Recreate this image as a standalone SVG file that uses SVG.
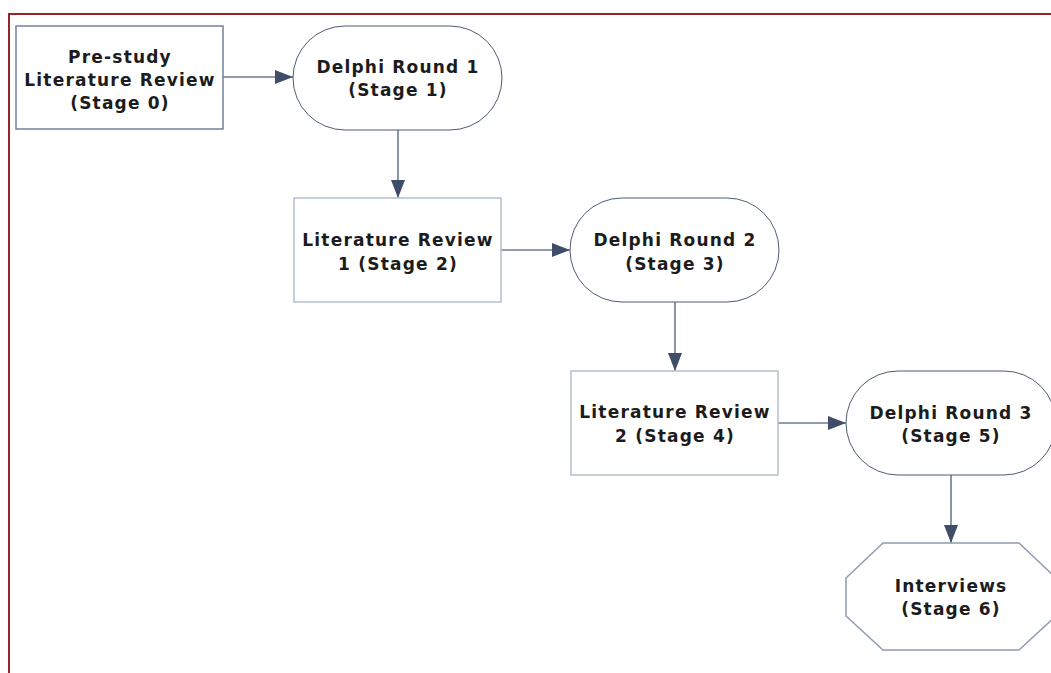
<svg xmlns="http://www.w3.org/2000/svg" width="1051" height="673" viewBox="0 0 1051 673">
<style>
.lbl{font-family:"DejaVu Sans","Verdana",sans-serif;font-weight:bold;font-size:17px;letter-spacing:1.2px;fill:#1c1c1c;text-anchor:middle}
.box{fill:#fff;stroke:#b3bfcd;stroke-width:1.5}
.box0{fill:#fff;stroke:#72819a;stroke-width:1.5}
.term{fill:#fff;stroke:#4f5d74;stroke-width:1}
.oct{fill:#fff;stroke:#8d9bb0;stroke-width:1.5}
.conn{stroke:#6c7a92;stroke-width:1.6;fill:none}
</style>
<defs>
<marker id="ah" viewBox="0 0 18 14" refX="18" refY="7" markerWidth="18" markerHeight="14" markerUnits="userSpaceOnUse" orient="auto">
<path d="M0,0 L18,7 L0,14 Z" fill="#3f4d68"/>
</marker>
</defs>
<rect width="1051" height="673" fill="#fff"/>
<path d="M9,673 L9,14 L1051,14" fill="none" stroke="#98242a" stroke-width="2"/>
<g id="connectors">
<line class="conn" x1="223" y1="77" x2="293" y2="77" marker-end="url(#ah)"/>
<line class="conn" x1="398" y1="130" x2="398" y2="198" marker-end="url(#ah)"/>
<line class="conn" x1="501" y1="250" x2="570" y2="250" marker-end="url(#ah)"/>
<line class="conn" x1="675" y1="302" x2="675" y2="371" marker-end="url(#ah)"/>
<line class="conn" x1="778" y1="423" x2="846" y2="423" marker-end="url(#ah)"/>
<line class="conn" x1="951" y1="475" x2="951" y2="543" marker-end="url(#ah)"/>
</g>
<g id="stage0">
<rect class="box0" x="16" y="26" width="207" height="103"/>
<text class="lbl" x="120" y="63">Pre-study</text>
<text class="lbl" x="120" y="86">Literature Review</text>
<text class="lbl" x="120" y="109">(Stage 0)</text>
</g>
<g id="stage1">
<rect class="term" x="293" y="26" width="209" height="104" rx="52" ry="52"/>
<text class="lbl" x="398" y="73">Delphi Round 1</text>
<text class="lbl" x="398" y="96">(Stage 1)</text>
</g>
<g id="stage2">
<rect class="box" x="294" y="198" width="207" height="104"/>
<text class="lbl" x="398" y="246">Literature Review</text>
<text class="lbl" x="398" y="270">1 (Stage 2)</text>
</g>
<g id="stage3">
<rect class="term" x="570" y="198" width="209" height="104" rx="52" ry="52"/>
<text class="lbl" x="675" y="246">Delphi Round 2</text>
<text class="lbl" x="675" y="270">(Stage 3)</text>
</g>
<g id="stage4">
<rect class="box" x="571" y="371" width="207" height="104"/>
<text class="lbl" x="675" y="418">Literature Review</text>
<text class="lbl" x="675" y="442">2 (Stage 4)</text>
</g>
<g id="stage5">
<rect class="term" x="846" y="371" width="210" height="104" rx="52" ry="52"/>
<text class="lbl" x="951" y="419">Delphi Round 3</text>
<text class="lbl" x="951" y="442">(Stage 5)</text>
</g>
<g id="stage6">
<polygon class="oct" points="883,543 1019,543 1056,578 1056,616 1019,650 883,650 846,616 846,578"/>
<text class="lbl" x="951" y="592">Interviews</text>
<text class="lbl" x="951" y="615">(Stage 6)</text>
</g>
</svg>
